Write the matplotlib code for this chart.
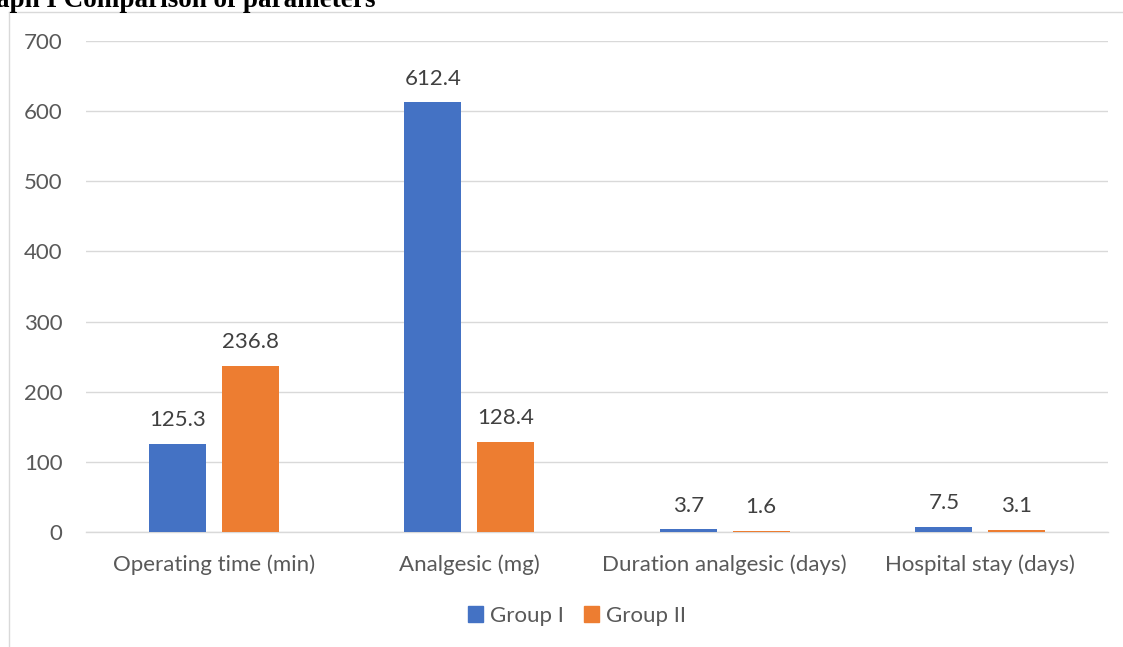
import matplotlib
matplotlib.use("Agg")
import matplotlib.pyplot as plt
from matplotlib.patches import Patch
from matplotlib.lines import Line2D
import numpy as np

categories = ["Operating time (min)", "Analgesic (mg)",
              "Duration analgesic (days)", "Hospital stay (days)"]
group_1 = [125.3, 612.4, 3.7, 7.5]
group_2 = [236.8, 128.4, 1.6, 3.1]
series_names = ["Group I", "Group II"]
y_ticks = [0, 100, 200, 300, 400, 500, 600, 700]

blue = "#4472C4"
orange = "#ED7D31"
grid_c = "#D9D9D9"
text_c = "#595959"
label_c = "#404040"

W, H = 1123, 647
fig = plt.figure(figsize=(W / 100, H / 100), dpi=100)
font = ["Lato", "DejaVu Sans"]
fs = 16

ax = fig.add_axes([86 / W, 1 - 532 / H, (1108 - 86) / W, (532 - 41) / H])
x = np.arange(len(categories))
bw = 0.223
off = bw / 2 + 0.031
b1 = ax.bar(x - off, group_1, bw, color=blue, zorder=3)
b2 = ax.bar(x + off, group_2, bw, color=orange, zorder=3)

for bars, vals in ((b1, group_1), (b2, group_2)):
    for rect, v in zip(bars, vals):
        ax.annotate(f"{v:.1f}", (rect.get_x() + rect.get_width() / 2, v),
                    xytext=(0, 10), textcoords="offset points",
                    ha="center", va="bottom", fontsize=fs,
                    color=label_c, family=font)

ax.set_xlim(-0.5, len(categories) - 0.5)
ax.set_ylim(0, 700)
ax.set_yticks(y_ticks)
ax.set_xticks(x)
ax.set_xticklabels(categories)
ax.grid(axis="y", color=grid_c, linewidth=1, zorder=0)
for s in ("top", "right", "left"):
    ax.spines[s].set_visible(False)
ax.spines["bottom"].set_color(grid_c)
ax.spines["bottom"].set_linewidth(1)
ax.tick_params(axis="both", length=0, labelsize=fs, colors=text_c)
ax.tick_params(axis="y", pad=17)
ax.tick_params(axis="x", pad=16)
for lab in ax.get_xticklabels() + ax.get_yticklabels():
    lab.set_family(font)

# chart frame edges
fig.add_artist(Line2D([8.5 / W, 8.5 / W], [0, 1 - 12 / H], transform=fig.transFigure,
                      color=grid_c, linewidth=1))
fig.add_artist(Line2D([8.5 / W, 1], [1 - 12 / H, 1 - 12 / H], transform=fig.transFigure,
                      color=grid_c, linewidth=1))

# caption, partly cut by the top edge
fig.text(-4 / W, 1 - 7 / H, "aph I Comparison of parameters", ha="left", va="baseline",
         fontsize=19.5, fontweight="bold", family=["Liberation Serif"], color="black")

handles = [Patch(color=blue, label=series_names[0]),
           Patch(color=orange, label=series_names[1])]
leg = fig.legend(handles=handles, loc="center", bbox_to_anchor=(577 / W, 1 - 616 / H),
                 ncol=2, frameon=False, handlelength=0.7, handleheight=0.7,
                 handletextpad=0.3, columnspacing=0.9,
                 prop={"family": font, "size": fs})
for t in leg.get_texts():
    t.set_color(text_c)

fig.savefig("out.png", dpi=100)
